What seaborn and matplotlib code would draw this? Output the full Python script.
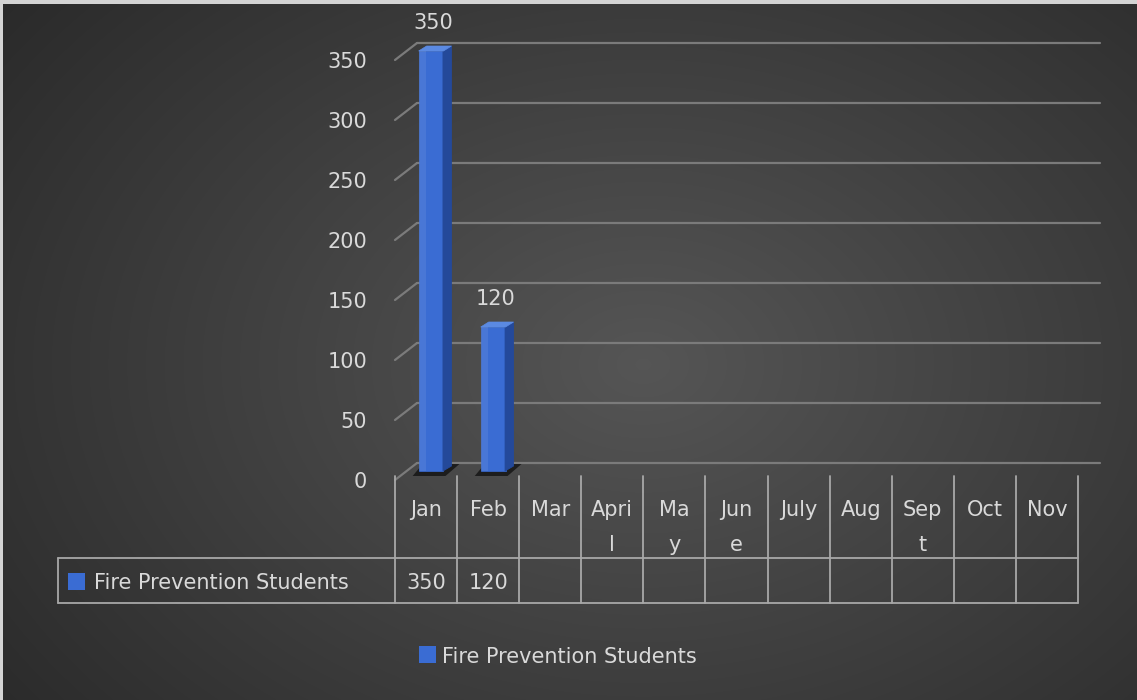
import numpy as np
import pandas as pd
import matplotlib
matplotlib.use("Agg")
import matplotlib.pyplot as plt
from matplotlib.transforms import Affine2D, blended_transform_factory
from matplotlib.patches import Polygon, Rectangle
from matplotlib.lines import Line2D
import seaborn as sns

# ---------------- data ----------------
categories = ["Jan", "Feb", "Mar", "April", "May", "June", "July", "Aug", "Sept", "Oct", "Nov"]
tick_labels = ["Jan", "Feb", "Mar", "Apri\nl", "Ma\ny", "Jun\ne", "July", "Aug", "Sep\nt", "Oct", "Nov"]
series_name = "Fire Prevention Students"
values = [350, 120, None, None, None, None, None, None, None, None, None]
y_ticks = [0, 50, 100, 150, 200, 250, 300, 350]
y_max = 350

# ---------------- style ----------------
sns.set_theme(style="white")
plt.rcParams["font.family"] = ["DejaVu Sans"]

W, H = 1137, 700
FONT = 15
TXT = "#d9d9d9"
BLUE = "#3a6cd3"
BLUE_SIDE = "#24499a"
BLUE_TOP = "#5b8ae2"
GRID = "#7b7b7b"
TABLE = "#a8a8a8"

fig = plt.figure(figsize=(W / 100, H / 100), dpi=100, facecolor="#d4d4d4")
PX = Affine2D().scale(1.0 / W, -1.0 / H).translate(0, 1) + fig.transFigure


def rect(x, y_top, w, h):
    return [x / W, 1 - (y_top + h) / H, w / W, h / H]


# background gradient
bg = fig.add_axes(rect(3, 4, W - 3, H - 4))
gy, gx = np.mgrid[0:H - 4, 0:W - 3]
r = np.sqrt(((gx - 640) / 720.0) ** 2 + ((gy - 360) / 520.0) ** 2)
shade = np.clip(0.335 - 0.15 * r, 0.15, 0.35)
bg.imshow(np.dstack([shade] * 3), aspect="auto", extent=(0, 1, 0, 1), interpolation="bilinear")
bg.set_axis_off()
bg.set_zorder(0)

# three depth planes of the pseudo-3D chart
PLOT_W, PLOT_H = 683, 420
ax_back = fig.add_axes(rect(417, 43, PLOT_W, PLOT_H))
ax_mid = fig.add_axes(rect(400, 51, PLOT_W, PLOT_H))
ax_front = fig.add_axes(rect(395, 60, PLOT_W, PLOT_H))

df = pd.DataFrame({"month": categories, "students": values}).dropna()
sns.barplot(data=df, x="month", y="students", order=categories, color=BLUE,
            saturation=1, width=0.40, errorbar=None, ax=ax_mid, zorder=3,
            edgecolor=BLUE, linewidth=0.5)

ncat = len(categories)
for z, ax in zip([1, 2, 3], [ax_back, ax_mid, ax_front]):
    ax.set_zorder(z)
    ax.patch.set_visible(False)
    ax.set_xlim(-0.5, ncat - 0.5)
    ax.set_ylim(0, y_max)
    ax.set_xlabel("")
    ax.set_ylabel("")
    ax.set_xticks([])
    for s in ax.spines.values():
        s.set_visible(False)
ax_back.set_yticks([])
ax_mid.set_yticks([])
ax_front.set_yticks(y_ticks)
ax_front.tick_params(axis="y", length=0, pad=20, labelsize=FONT, labelcolor=TXT)
ax_front.grid(False)
ax_back.grid(False)
ax_mid.grid(False)

# gridlines on back wall + diagonal floor edges
inv = fig.transFigure.inverted()
for v in y_ticks:
    ax_back.axhline(v, color=GRID, lw=1.6, clip_on=False)
    pb = inv.transform(ax_back.transData.transform((-0.5, v)))
    pf = inv.transform(ax_front.transData.transform((-0.5, v)))
    fig.add_artist(Line2D([pf[0], pb[0]], [pf[1], pb[1]], color=GRID, lw=1.6,
                          transform=fig.transFigure, zorder=1))

# pseudo-3D bars
px_x = ncat / PLOT_W
px_y = y_max / PLOT_H
DX = 8 * px_x
DY = 5 * px_y
for bar in list(ax_mid.patches):
    x0, w, h = bar.get_x(), bar.get_width(), bar.get_height()
    if not np.isfinite(h) or h <= 0:
        continue
    x1 = x0 + w
    shadow = Polygon([(x0 - 6 * px_x, -5 * px_y), (x1 + 2 * px_x, -5 * px_y),
                      (x1 + DX + 8 * px_x, 7 * px_y), (x0 + 4 * px_x, 7 * px_y)],
                     closed=True, fc="black", ec="none", alpha=0.6, zorder=2, clip_on=False)
    side = Polygon([(x1 - 0.5 * px_x, 0), (x1 + DX, DY), (x1 + DX, h + DY), (x1 - 0.5 * px_x, h)],
                   closed=True, fc=BLUE_SIDE, ec=BLUE_SIDE, lw=0.6, zorder=3, clip_on=False)
    top = Polygon([(x0, h), (x1, h), (x1 + DX, h + DY), (x0 + DX, h + DY)],
                  closed=True, fc=BLUE_TOP, ec=BLUE_TOP, lw=0.5, zorder=3, clip_on=False)
    hl = Rectangle((x0, 0), w * 0.3, h, fc="white", ec="none", alpha=0.08, zorder=3.1)
    for p in (shadow, side, top, hl):
        ax_mid.add_patch(p)
    bar.set_clip_on(False)
    ax_mid.annotate(f"{h:g}", xy=(x0 + w / 2 + DX * 0.3, h), xytext=(0, 28),
                    textcoords="offset pixels", ha="center", va="center",
                    fontsize=FONT, color=TXT, annotation_clip=False)

# ---------------- data table ----------------
blend = blended_transform_factory(ax_front.transData, PX)
edges = np.arange(ncat + 1) - 0.5
for e in edges:
    fig.add_artist(Line2D([e, e], [476, 603], color=TABLE, lw=1.3, transform=blend, zorder=4))
x_right = ax_front.transData.transform((edges[-1], 0))[0]
for yy in (558, 603):
    fig.add_artist(Line2D([58, x_right], [yy, yy], color=TABLE, lw=1.3, transform=PX, zorder=4))
fig.add_artist(Line2D([58, 58], [558, 603], color=TABLE, lw=1.3, transform=PX, zorder=4))

for i, lab in enumerate(tick_labels):
    for j, part in enumerate(lab.split("\n")):
        fig.text(i, 516 + 35 * j, part, transform=blend, ha="center", va="baseline",
                 fontsize=FONT, color=TXT, zorder=5)
for i, v in enumerate(values):
    if v is not None:
        fig.text(i, 589, f"{v:g}", transform=blend, ha="center", va="baseline",
                 fontsize=FONT, color=TXT, zorder=5)

fig.add_artist(Rectangle((68, 573), 17, 17, transform=PX, fc=BLUE, ec="none", zorder=5))
fig.text(94, 589, series_name, transform=PX, ha="left", va="baseline",
         fontsize=FONT, color=TXT, zorder=5)

# ---------------- legend ----------------
fig.add_artist(Rectangle((419, 646), 17, 17, transform=PX, fc=BLUE, ec="none", zorder=5))
fig.text(442, 663, series_name, transform=PX, ha="left", va="baseline",
         fontsize=FONT, color=TXT, zorder=5)

fig.savefig("out.png", dpi=100, facecolor=fig.get_facecolor())
